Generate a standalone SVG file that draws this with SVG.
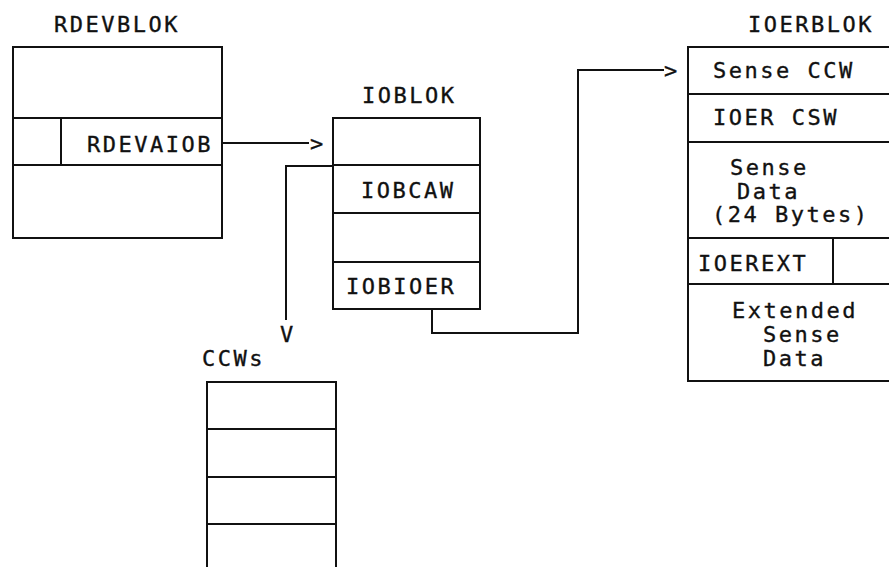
<svg xmlns="http://www.w3.org/2000/svg" width="889" height="567" viewBox="0 0 889 567">
<style>
  .box { fill: none; stroke: #111; stroke-width: 2; }
  .ln { fill: none; stroke: #111; stroke-width: 2; }
  .t { font-family: "DejaVu Sans Mono", "Liberation Mono", monospace; font-size: 22px; letter-spacing: 2.5px; fill: #111; stroke: #111; stroke-width: 0.35; }
  .ah { font-family: "DejaVu Sans Mono", "Liberation Mono", monospace; font-size: 22px; fill: #111; stroke: #111; stroke-width: 0.35; }
</style>
<rect x="0" y="0" width="889" height="567" fill="#fff"/>

<g id="rdevblok">
  <text class="t" x="54" y="32">RDEVBLOK</text>
  <rect class="box" x="13" y="47" width="209" height="191"/>
  <line class="ln" x1="13" y1="118" x2="222" y2="118"/>
  <line class="ln" x1="13" y1="165" x2="222" y2="165"/>
  <line class="ln" x1="61" y1="118" x2="61" y2="165"/>
  <text class="t" x="87" y="152">RDEVAIOB</text>
</g>

<g id="ioblok">
  <text class="t" x="362" y="103">IOBLOK</text>
  <rect class="box" x="333" y="118" width="147" height="191"/>
  <line class="ln" x1="333" y1="165" x2="480" y2="165"/>
  <line class="ln" x1="333" y1="213" x2="480" y2="213"/>
  <line class="ln" x1="333" y1="262" x2="480" y2="262"/>
  <text class="t" x="361" y="198">IOBCAW</text>
  <text class="t" x="346" y="294">IOBIOER</text>
</g>

<g id="ioerblok">
  <text class="t" x="748" y="32">IOERBLOK</text>
  <rect class="box" x="688" y="47" width="220" height="334"/>
  <line class="ln" x1="688" y1="94" x2="889" y2="94"/>
  <line class="ln" x1="688" y1="142" x2="889" y2="142"/>
  <line class="ln" x1="688" y1="238" x2="889" y2="238"/>
  <line class="ln" x1="688" y1="284" x2="889" y2="284"/>
  <line class="ln" x1="833" y1="238" x2="833" y2="284"/>
  <text class="t" x="713" y="78">Sense CCW</text>
  <text class="t" x="713" y="125">IOER CSW</text>
  <text class="t" x="730" y="175">Sense</text>
  <text class="t" x="737" y="199">Data</text>
  <text class="t" x="712" y="222">(24 Bytes)</text>
  <text class="t" x="698" y="271">IOEREXT</text>
  <text class="t" x="732" y="318">Extended</text>
  <text class="t" x="763" y="342">Sense</text>
  <text class="t" x="763" y="366">Data</text>
</g>

<g id="ccws">
  <text class="t" x="202" y="366">CCWs</text>
  <rect class="box" x="207" y="382" width="129" height="200"/>
  <line class="ln" x1="207" y1="429" x2="336" y2="429"/>
  <line class="ln" x1="207" y1="477" x2="336" y2="477"/>
  <line class="ln" x1="207" y1="524" x2="336" y2="524"/>
</g>

<g id="connectors">
  <line class="ln" x1="222" y1="143" x2="309" y2="143"/>
  <text class="ah" x="310" y="151">&gt;</text>
  <polyline class="ln" points="333,166 286,166 286,320"/>
  <text class="ah" x="280" y="342">V</text>
  <polyline class="ln" points="432,309 432,333 578,333 578,70 664,70"/>
  <text class="ah" x="664" y="78">&gt;</text>
</g>
</svg>
